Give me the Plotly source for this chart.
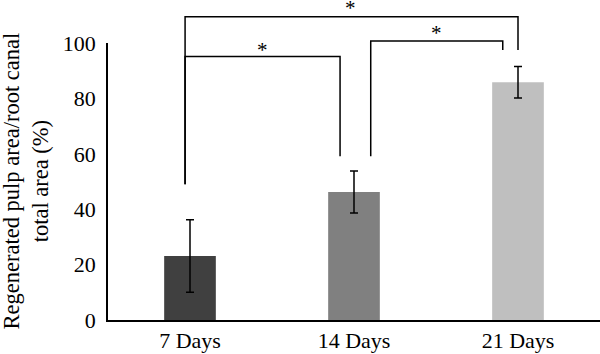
import plotly.graph_objects as go

categories = ["7 Days", "14 Days", "21 Days"]
means = [23.1, 46.2, 85.8]
errors = [13.1, 7.6, 5.7]
bar_colors = ["#404040", "#808080", "#bfbfbf"]
y_ticks = [0, 20, 40, 60, 80, 100]

# significance brackets: (x_left, x_right, y_top, y_left_bottom, y_right_bottom, star_x, star_y)
brackets = [
    (-0.03, 2.0, 109.5, 49.0, 97.5, 0.98, 114.6),
    (-0.03, 0.915, 95.1, 49.0, 59.1, 0.445, 99.2),
    (1.102, 1.907, 100.7, 59.1, 97.5, 1.5, 105.3),
]

YMAX = 100.0
FONT = "Liberation Serif"

fig = go.Figure()
fig.add_trace(go.Bar(
    x=list(range(len(categories))), y=means,
    marker=dict(color=bar_colors, line=dict(width=0)),
    width=0.315,
    error_y=dict(type="data", array=errors, visible=True, color="black", thickness=1.5, width=4),
))

def py(v):
    return v / YMAX

for xl, xr, yt, ylb, yrb, sx, sy in brackets:
    path = f"M {xl},{py(ylb)} L {xl},{py(yt)} L {xr},{py(yt)} L {xr},{py(yrb)}"
    fig.add_shape(type="path", path=path, xref="x", yref="paper",
                  line=dict(color="black", width=1.5))
    fig.add_annotation(x=sx, y=py(sy), xref="x", yref="paper", text="*",
                       showarrow=False, yanchor="middle", yshift=-5,
                       font=dict(family=FONT, size=21, color="black"))

fig.add_annotation(x=0.0, y=0.5, xref="paper", yref="paper",
                   xshift=-83, text="Regenerated pulp area/root canal<br>total area (%)",
                   showarrow=False, textangle=-90, xanchor="center", yanchor="middle",
                   font=dict(family=FONT, size=22.5, color="black"))

fig.update_layout(
    width=600, height=354,
    margin=dict(l=108, r=0, t=43, b=34),
    paper_bgcolor="white", plot_bgcolor="white",
    showlegend=False,
    font=dict(family=FONT, size=22, color="black"),
    xaxis=dict(range=[-0.5, 2.5], tickvals=list(range(len(categories))), ticktext=categories,
               showline=True, linecolor="black", linewidth=1.5, showgrid=False, zeroline=False,
               ticks="", tickfont=dict(family=FONT, size=22, color="black")),
    yaxis=dict(range=[0, YMAX], tickvals=y_ticks, showline=True, linecolor="black",
               linewidth=1.5, showgrid=False, zeroline=False, ticks="",
               ticklabelstandoff=6,
               tickfont=dict(family=FONT, size=22, color="black")),
)

fig.write_html("out.html")
